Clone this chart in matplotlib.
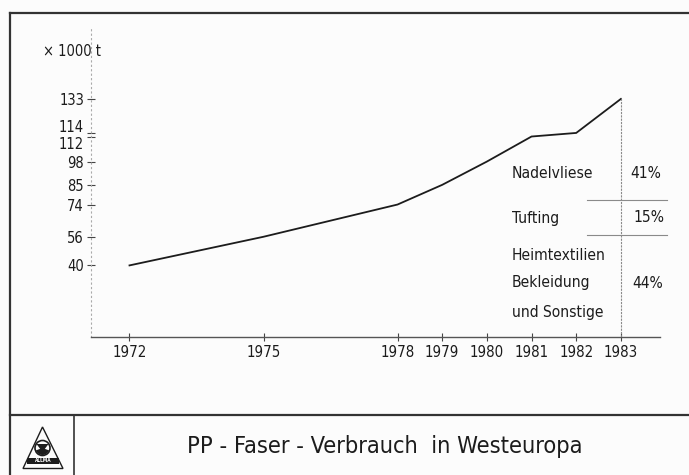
import matplotlib
matplotlib.use('Agg')
import matplotlib.pyplot as plt
from matplotlib.patches import Polygon, Circle, Rectangle, Wedge
import matplotlib.transforms as mtransforms

# ---------------- data ----------------
years = [1972, 1975, 1978, 1979, 1980, 1981, 1982, 1983]
consumption = [40, 56, 74, 85, 98, 112, 114, 133]          # x 1000 t
ytick_values = [40, 56, 74, 85, 98, 112, 114, 133]
ytick_labels = ['40', '56', '74', '85', '98', '112', '114', '133']
xtick_labels = ['1972', '1975', '1978', '1979', '1980', '1981', '1982', '1983']
share_names = ['Nadelvliese', 'Tufting', 'Heimtextilien', 'Bekleidung', 'und Sonstige']
share_values = ['41%', '15%', '', '44%', '']
unit_label = '× 1000 t'
title = 'PP - Faser - Verbrauch  in Westeuropa'

plt.rcParams['font.family'] = ['DejaVu Sans']
plt.rcParams['font.stretch'] = 'condensed'
INK = '#1c1c1c'
GREY = '#8a8a8a'

W, H = 689, 475
fig = plt.figure(figsize=(W / 100, H / 100), dpi=100)
fig.patch.set_facecolor('#fcfcfc')

# overlay axes in pixel coordinates for frame, logo and free texts
ov = fig.add_axes([0, 0, 1, 1])
ov.set_xlim(0, W)
ov.set_ylim(H, 0)
ov.axis('off')
ov.patch.set_alpha(0)

# ---------------- main chart ----------------
x_left, x_right, y_bottom, y_top = 91, 660, 337, 27
px_per_year = 44.67
px_per_unit = 1.79
ax = fig.add_axes([x_left / W, (H - y_bottom) / H, (x_right - x_left) / W, (y_bottom - y_top) / H])
ax.patch.set_alpha(0)
ax.set_xlim(1972 - (129.5 - x_left) / px_per_year, 1972 + (x_right - 129.5) / px_per_year)
ax.set_ylim(0, (y_bottom - y_top) / px_per_unit)

ax.plot(years, consumption, color=INK, lw=1.3, solid_joinstyle='miter', clip_on=False)
ax.plot([years[-1], years[-1]], [0, consumption[-1]], color=GREY, lw=0.8, ls=(0, (2, 1)))

for s in ['top', 'right']:
    ax.spines[s].set_visible(False)
ax.spines['bottom'].set_color('#555555')
ax.spines['bottom'].set_linewidth(1.0)
ax.spines['left'].set_color('#aaaaaa')
ax.spines['left'].set_linewidth(0.8)
ax.spines['left'].set_linestyle((0, (1, 3)))

ax.set_xticks(years)
ax.set_xticklabels(xtick_labels)
ax.set_yticks(ytick_values)
ax.set_yticklabels(ytick_labels)
ax.tick_params(axis='x', direction='inout', length=6, width=0.8, color='#444444',
               labelsize=10.8, pad=2.5, labelcolor=INK)
ax.tick_params(axis='y', direction='inout', length=6, width=0.8, color='#444444',
               labelsize=10.5, pad=2, labelcolor=INK)
# spread the crowded 112 / 114 labels apart
for lbl, val in zip(ax.get_yticklabels(), ytick_values):
    if val == 114:
        lbl.set_transform(lbl.get_transform() + mtransforms.ScaledTranslation(0, 5 / 72, fig.dpi_scale_trans))
    elif val == 112:
        lbl.set_transform(lbl.get_transform() + mtransforms.ScaledTranslation(0, -5 / 72, fig.dpi_scale_trans))

# share table
share_rows_y = [173, 218, 255, 283, 312]
share_val_x = [630, 633, 0, 632, 0]
for name, val, yy, vx in zip(share_names, share_values, share_rows_y, share_val_x):
    ov.text(512, yy, name, fontsize=11.2, color=INK, ha='left', va='center')
    if val:
        ov.text(vx, yy, val, fontsize=11.2, color=INK, ha='left', va='center')
for yy in [200, 235]:
    ov.plot([587, 667], [yy, yy], color=GREY, lw=0.8)

ov.text(43, 52, unit_label, fontsize=10.5, color=INK, ha='left', va='center')

# ---------------- frame ----------------
fc = '#333333'
ov.plot([10, W], [13, 13], color=fc, lw=1.6)
ov.plot([10, 10], [13, H], color=fc, lw=1.6)
ov.plot([10, W], [415, 415], color=fc, lw=1.6)
ov.plot([74, 74], [415, H], color=fc, lw=1.2)

# logo
ov.add_patch(Polygon([[42.5, 427], [23, 468.5], [63, 468.5]], closed=True, fill=False, ec=INK, lw=1.0))
ov.add_patch(Circle((42.5, 448), 7.5, fill=False, ec=INK, lw=1.2))
ov.add_patch(Wedge((42.5, 448), 7.0, 20, 160, fc=INK, ec='none'))
ov.add_patch(Polygon([[36.5, 444], [48.5, 444], [42.5, 452]], closed=True, fc=INK, ec='none'))
ov.add_patch(Rectangle((27, 458), 32, 6, fc=INK, ec='none'))
ov.text(43, 461, 'ALLMA', fontsize=3.5, color='white', ha='center', va='center', fontweight='bold')

# title
ov.text(385, 446, title, fontsize=16.9, color=INK, ha='center', va='center')

fig.savefig('out.png', dpi=100, facecolor=fig.get_facecolor())
